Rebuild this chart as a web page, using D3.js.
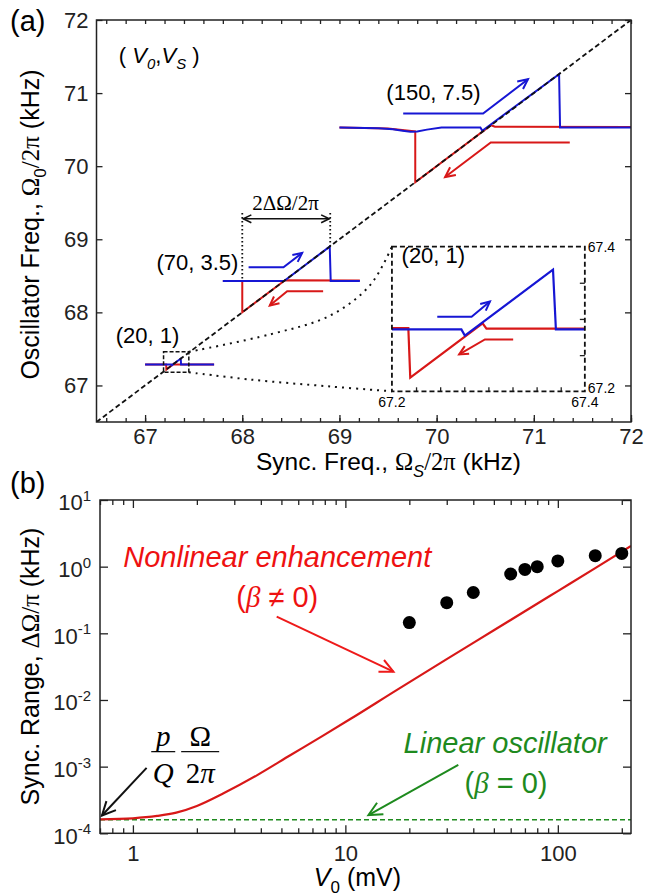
<!DOCTYPE html>
<html>
<head>
<meta charset="utf-8">
<script src="https://cdn.jsdelivr.net/npm/d3@7"></script>
<style>
  body { margin: 0; background: #fff; }
</style>
</head>
<body>
<script>
// ---- panel (a): frequency sweeps, [sync freq, oscillator freq] in kHz ----
var sweepUp150 = [[69.0, 70.53], [69.4, 70.52], [69.55, 70.505], [69.65, 70.485], [69.73, 70.47], [69.8, 70.475],
    [69.9, 70.5], [70.05, 70.53], [70.45, 70.53], [70.47, 70.485], [71.26, 71.26], [71.27, 70.53], [72.0, 70.53]];
var sweepDown150 = [[72.0, 70.535], [70.6, 70.54], [70.56, 70.56], [69.78, 69.78], [69.78, 70.475], [69.5, 70.515], [69.0, 70.53]];
var sweepUp70 = [[67.8, 68.43], [68.43, 68.43], [68.9, 68.9], [68.91, 68.43], [69.21, 68.43]];
var sweepDown70 = [[69.21, 68.437], [68.44, 68.44], [68.0, 68.0], [68.0, 68.43], [67.8, 68.43]];
var sweepUp20 = [[67.0, 67.2855], [67.272, 67.2855], [67.2756, 67.277], [67.367, 67.368], [67.370, 67.2855], [67.71, 67.2855]];
var sweepDown20 = [[67.71, 67.2865], [67.298, 67.2865], [67.294, 67.294], [67.219, 67.219], [67.217, 67.2875], [67.0, 67.2875]];
var ticksA = [67, 68, 69, 70, 71, 72];
var ticksInset = [67.2, 67.4];

// ---- panel (b): sync range vs drive amplitude ----
var v0Measured = [20, 30, 40, 60, 70, 80, 100, 150, 200];
var rangeMeasured = [0.145, 0.288, 0.41, 0.776, 0.91, 1.0, 1.22, 1.46, 1.58];
var v0Theory = [0.7, 1, 1.3, 1.6, 2, 2.67, 3.83, 5.5, 7.89, 10.5, 17.5, 30, 50, 100, 150, 221];
var rangeTheory = [1.62e-4, 1.68e-4, 1.82e-4, 2.04e-4, 2.57e-4, 3.98e-4, 7.4e-4, 1.48e-3, 2.95e-3, 5.13e-3,
    0.0142, 0.041, 0.111, 0.43, 0.95, 2.04];
var linearRange = 1.6e-4;
var ticksBx = [1, 10, 100];
var ticksBy = [1e-4, 1e-3, 1e-2, 1e-1, 1, 10];

var sans = "Arial, 'Liberation Sans', sans-serif";
var serif = "'Times New Roman', 'Liberation Serif', serif";
var blue = "#1616d4", red = "#d81818", green = "#1e8a1e", ink = "#222";

var svg = d3.select("body").append("svg")
    .attr("width", 656)
    .attr("height", 896)
    .attr("font-family", sans);

function styleAxis(g, size) {
    g.select(".domain").remove();
    g.attr("font-size", size || 22).attr("font-family", sans).attr("color", ink);
    g.selectAll("line").attr("stroke-width", 1.3);
}

// text with italic / serif / sub / sup pieces
function rich(t, parts, fs) {
    var shift = 0;
    parts.forEach(function(p) {
        var s = t.append("tspan").text(p.t);
        var target = p.sub ? fs * 0.28 : p.sup ? -fs * 0.42 : 0;
        if (target !== shift) { s.attr("dy", target - shift); shift = target; }
        if (p.sub || p.sup) s.attr("font-size", fs * 0.68);
        if (p.it) s.attr("font-style", "italic");
        if (p.serif) s.attr("font-family", serif);
    });
    return t;
}

function arrow(g, pts, color, width, head, both) {
    g.append("path")
        .attr("d", d3.line()(pts))
        .attr("fill", "none")
        .attr("stroke", color)
        .attr("stroke-width", width);
    var ends = both ? [[pts[pts.length - 1], pts[pts.length - 2]], [pts[0], pts[1]]] : [[pts[pts.length - 1], pts[pts.length - 2]]];
    ends.forEach(function(e) {
        var p = e[0], q = e[1];
        var a = Math.atan2(p[1] - q[1], p[0] - q[0]);
        var h1 = [p[0] - head * Math.cos(a - 0.45), p[1] - head * Math.sin(a - 0.45)];
        var h2 = [p[0] - head * Math.cos(a + 0.45), p[1] - head * Math.sin(a + 0.45)];
        g.append("path")
            .attr("d", d3.line()([h1, p, h2]))
            .attr("fill", "none")
            .attr("stroke", color)
            .attr("stroke-width", width)
            .attr("stroke-linejoin", "miter");
    });
}

// =================== panel (a) ===================
var xA = d3.scaleLinear().domain([66.5, 72]).range([96.5, 631]);
var yA = d3.scaleLinear().domain([66.5, 72]).range([422, 20]);
var lineA = d3.line().x(d => xA(d[0])).y(d => yA(d[1]));
var pA = d => [xA(d[0]), yA(d[1])];

var defs = svg.append("defs");
defs.append("clipPath").attr("id", "clipA").append("rect")
    .attr("x", 96.5).attr("y", 20).attr("width", 631 - 96.5).attr("height", 402);

var panelA = svg.append("g");
var dataA = panelA.append("g").attr("clip-path", "url(#clipA)");

[[sweepDown150, red], [sweepUp150, blue], [sweepDown70, red], [sweepUp70, blue], [sweepDown20, red], [sweepUp20, blue]]
    .forEach(function(s) {
        dataA.append("path")
            .datum(s[0])
            .attr("d", lineA)
            .attr("fill", "none")
            .attr("stroke", s[1])
            .attr("stroke-width", 2);
    });

// y = x guide
dataA.append("line")
    .attr("x1", xA(66.5)).attr("y1", yA(66.5))
    .attr("x2", xA(72)).attr("y2", yA(72))
    .attr("stroke", "#111")
    .attr("stroke-width", 1.8)
    .attr("stroke-dasharray", "5,3");

// zoom box and connectors
panelA.append("rect")
    .attr("x", xA(67.19)).attr("y", yA(67.46))
    .attr("width", xA(67.45) - xA(67.19)).attr("height", yA(67.18) - yA(67.46))
    .attr("fill", "none").attr("stroke", "#111").attr("stroke-width", 1.5).attr("stroke-dasharray", "4,2");

var topConnector = [[67.45, 67.46], [68.29, 67.70], [68.91, 67.96], [69.32, 68.38], [69.54, 68.9]];
var bottomConnector = [[67.45, 67.18], [68.09, 67.08], [68.91, 66.985], [69.54, 66.92]];
[topConnector, bottomConnector].forEach(function(c) {
    panelA.append("path")
        .datum(c)
        .attr("d", lineA.curve(d3.curveCatmullRom))
        .attr("fill", "none")
        .attr("stroke", "#111")
        .attr("stroke-width", 2)
        .attr("stroke-dasharray", "2,5");
});
lineA.curve(d3.curveLinear);

// 2ΔΩ/2π marker
[[68.0, 68.43], [68.905, 68.9]].forEach(function(d) {
    panelA.append("line")
        .attr("x1", xA(d[0])).attr("x2", xA(d[0]))
        .attr("y1", yA(69.36)).attr("y2", yA(d[1]))
        .attr("stroke", "#111").attr("stroke-width", 1.8).attr("stroke-dasharray", "1.5,2.5");
});
arrow(panelA, [pA([68.01, 69.28]), pA([68.895, 69.28])], "#111", 1.6, 9, true);
panelA.append("text")
    .attr("x", xA(68.445)).attr("y", yA(69.395))
    .attr("text-anchor", "middle")
    .attr("font-family", serif)
    .attr("font-size", 21)
    .text("2ΔΩ/2π");

// sweep direction arrows
arrow(panelA, [[69.656, 70.72], [70.478, 70.72], [70.94, 71.19]].map(pA), blue, 2, 11);
arrow(panelA, [[71.37, 70.324], [70.557, 70.324], [70.087, 69.851]].map(pA), red, 2, 11);
arrow(panelA, [[68.065, 68.616], [68.424, 68.616], [68.616, 68.813]].map(pA), blue, 2, 10);
arrow(panelA, [[68.832, 68.288], [68.462, 68.288], [68.283, 68.093]].map(pA), red, 2, 10);

// labels
panelA.append("text").attr("x", xA(69.967)).attr("y", yA(70.907)).attr("text-anchor", "middle").attr("font-size", 22).text("(150, 7.5)");
panelA.append("text").attr("x", xA(67.538)).attr("y", yA(68.585)).attr("text-anchor", "middle").attr("font-size", 22).text("(70, 3.5)");
panelA.append("text").attr("x", xA(67.025)).attr("y", yA(67.583)).attr("text-anchor", "middle").attr("font-size", 22).text("(20, 1)");
rich(panelA.append("text").attr("x", xA(66.73)).attr("y", yA(71.41)).attr("font-size", 22),
    [{t: "( "}, {t: "V", it: true}, {t: "0", it: true, sub: true}, {t: ","}, {t: "V", it: true}, {t: "S", it: true, sub: true}, {t: " )"}], 22);

// axes
var minorA = d3.range(333, 361).map(i => i / 5);
var fmtInt = d3.format("d");
panelA.append("g").attr("transform", "translate(0,422)")
    .call(d3.axisBottom(xA).tickValues(minorA).tickSize(-4).tickFormat("")).call(styleAxis);
panelA.append("g").attr("transform", "translate(0,422)")
    .call(d3.axisBottom(xA).tickValues(ticksA).tickSize(-7).tickPadding(6).tickFormat(fmtInt)).call(styleAxis);
panelA.append("g").attr("transform", "translate(0,20)")
    .call(d3.axisTop(xA).tickValues(minorA).tickSize(-4).tickFormat("")).call(styleAxis);
panelA.append("g").attr("transform", "translate(96.5,0)")
    .call(d3.axisLeft(yA).tickValues(ticksA).tickSize(-6).tickPadding(8).tickFormat(fmtInt)).call(styleAxis);
panelA.append("g").attr("transform", "translate(631,0)")
    .call(d3.axisRight(yA).tickValues(ticksA).tickSize(-6).tickFormat("")).call(styleAxis);
panelA.append("rect")
    .attr("x", 96.5).attr("y", 20).attr("width", 631 - 96.5).attr("height", 402)
    .attr("fill", "none").attr("stroke", ink).attr("stroke-width", 1.5);

// inset
var xI = d3.scaleLinear().domain([67.2, 67.4]).range([xA(69.54), xA(71.525)]);
var yI = d3.scaleLinear().domain([67.2, 67.4]).range([yA(66.92), yA(68.9)]);
var lineI = d3.line().x(d => xI(d[0])).y(d => yI(d[1]));
var pI = d => [xI(d[0]), yI(d[1])];
defs.append("clipPath").attr("id", "clipI").append("rect")
    .attr("x", xI(67.2)).attr("y", yI(67.4)).attr("width", xI(67.4) - xI(67.2)).attr("height", yI(67.2) - yI(67.4));

var inset = panelA.append("g");
inset.append("rect")
    .attr("x", xI(67.2)).attr("y", yI(67.4)).attr("width", xI(67.4) - xI(67.2)).attr("height", yI(67.2) - yI(67.4))
    .attr("fill", "#fff");
var dataI = inset.append("g").attr("clip-path", "url(#clipI)");
[[sweepDown20, red], [sweepUp20, blue]].forEach(function(s) {
    dataI.append("path")
        .datum(s[0])
        .attr("d", lineI)
        .attr("fill", "none")
        .attr("stroke", s[1])
        .attr("stroke-width", 2.2);
});
arrow(inset, [[67.247, 67.303], [67.2826, 67.303], [67.3016, 67.324]].map(pI), blue, 2, 10);
arrow(inset, [[67.3257, 67.2717], [67.2964, 67.2717], [67.2697, 67.251]].map(pI), red, 2, 10);
inset.append("text").attr("x", xI(67.21)).attr("y", yI(67.377)).attr("font-size", 22).text("(20, 1)");

inset.append("g").attr("transform", `translate(0,${yI(67.2)})`)
    .call(d3.axisBottom(xI).tickValues(d3.range(1, 8).map(i => 67.2 + i * 0.025)).tickSize(-4).tickFormat("")).call(styleAxis);
inset.append("g").attr("transform", `translate(${xI(67.4)},0)`)
    .call(d3.axisRight(yI).tickValues([67.25, 67.3, 67.35]).tickSize(-5).tickFormat("")).call(styleAxis);
inset.append("rect")
    .attr("x", xI(67.2)).attr("y", yI(67.4)).attr("width", xI(67.4) - xI(67.2)).attr("height", yI(67.2) - yI(67.4))
    .attr("fill", "none").attr("stroke", "#111").attr("stroke-width", 1.8).attr("stroke-dasharray", "5,3");
ticksInset.forEach(function(v) {
    inset.append("text").attr("x", xI(v)).attr("y", yI(67.2) + 16).attr("text-anchor", "middle").attr("font-size", 14).text(v.toFixed(1));
    inset.append("text").attr("x", xI(67.4) + 3).attr("y", yI(v) + (v === 67.2 ? 2 : 5)).attr("font-size", 14).text(v.toFixed(1));
});

// titles
svg.append("text").attr("x", 10).attr("y", 31).attr("font-size", 29).text("(a)");
rich(svg.append("text").attr("x", 256).attr("y", 470).attr("font-size", 24.5),
    [{t: "Sync. Freq., "}, {t: "Ω", serif: true}, {t: "S", it: true, sub: true}, {t: "/2π", serif: true}, {t: " (kHz)"}], 24.5);
rich(svg.append("text").attr("transform", "translate(39,224.5) rotate(-90)").attr("text-anchor", "middle").attr("font-size", 25),
    [{t: "Oscillator Freq., "}, {t: "Ω", serif: true}, {t: "0", sub: true}, {t: "/2π", serif: true}, {t: " (kHz)"}], 25);

// =================== panel (b) ===================
var xB = d3.scaleLog().domain([0.7, 221]).range([100, 631]);
var yB = d3.scaleLog().domain([1e-4, 10]).range([833.3, 500]);
var pB = d => [xB(d[0]), yB(d[1])];
defs.append("clipPath").attr("id", "clipB").append("rect")
    .attr("x", 100).attr("y", 500).attr("width", 531).attr("height", 333.3);

var panelB = svg.append("g");
var dataB = panelB.append("g").attr("clip-path", "url(#clipB)");

dataB.append("line")
    .attr("x1", xB(0.7)).attr("x2", xB(221))
    .attr("y1", yB(linearRange)).attr("y2", yB(linearRange))
    .attr("stroke", green).attr("stroke-width", 1.6).attr("stroke-dasharray", "5,3");

dataB.append("path")
    .datum(v0Theory.map((v, i) => [v, rangeTheory[i]]))
    .attr("d", d3.line().x(d => xB(d[0])).y(d => yB(d[1])).curve(d3.curveMonotoneX))
    .attr("fill", "none")
    .attr("stroke", red)
    .attr("stroke-width", 2.2);

panelB.selectAll("circle")
    .data(v0Measured)
    .enter()
    .append("circle")
    .attr("cx", d => xB(d))
    .attr("cy", (d, i) => yB(rangeMeasured[i]))
    .attr("r", 6.5)
    .attr("fill", "#000");

// annotations
arrow(panelB, [[4.75, 0.178], [16.84, 0.0266]].map(pB), "#ee1a1a", 2, 15);
arrow(panelB, [[34.0, 1.06e-3], [12.84, 1.88e-4]].map(pB), green, 2, 15);
arrow(panelB, [[1.16, 9.6e-4], [0.715, 1.85e-4]].map(pB), "#111", 2, 15);

panelB.append("text").attr("x", xB(4.78)).attr("y", yB(1.0)).attr("text-anchor", "middle")
    .attr("font-size", 29).attr("font-style", "italic").attr("fill", "#ee1111").text("Nonlinear enhancement");
rich(panelB.append("text").attr("x", xB(4.78)).attr("y", yB(0.251)).attr("text-anchor", "middle").attr("font-size", 29).attr("fill", "#ee1111"),
    [{t: "("}, {t: "β", it: true, serif: true}, {t: " ≠ 0)"}], 29);
panelB.append("text").attr("x", xB(56.5)).attr("y", yB(1.62e-3)).attr("text-anchor", "middle")
    .attr("font-size", 29).attr("font-style", "italic").attr("fill", green).text("Linear oscillator");
rich(panelB.append("text").attr("x", xB(57)).attr("y", yB(3.98e-4)).attr("text-anchor", "middle").attr("font-size", 29).attr("fill", green),
    [{t: "("}, {t: "β", it: true, serif: true}, {t: " = 0)"}], 29);

// p/Q * Ω/2π
var barY = yB(1.68e-3);
[[1.389, "p", "Q", true, 12], [2.073, "Ω", "2π", false, 19]].forEach(function(f) {
    var cx = xB(f[0]);
    panelB.append("line").attr("x1", cx - f[4]).attr("x2", cx + f[4]).attr("y1", barY).attr("y2", barY)
        .attr("stroke", "#111").attr("stroke-width", 1.3);
    var num = panelB.append("text").attr("x", cx).attr("y", barY - 6).attr("text-anchor", "middle")
        .attr("font-family", serif).attr("font-size", 29).text(f[1]);
    var den = panelB.append("text").attr("x", cx).attr("y", barY + 31).attr("text-anchor", "middle")
        .attr("font-family", serif).attr("font-size", 29).text(f[2]);
    if (f[3]) { num.attr("font-style", "italic"); den.attr("font-style", "italic"); }
    else { den.text(null); den.append("tspan").text("2"); den.append("tspan").attr("font-style", "italic").text("π"); }
});

// axes
var minorBx = [0.7, 0.8, 0.9, 2, 3, 4, 5, 6, 7, 8, 9, 20, 30, 40, 50, 60, 70, 80, 90, 200];
panelB.append("g").attr("transform", "translate(0,833.3)")
    .call(d3.axisBottom(xB).tickValues(minorBx).tickSize(-5).tickFormat("")).call(styleAxis);
panelB.append("g").attr("transform", "translate(0,833.3)")
    .call(d3.axisBottom(xB).tickValues(ticksBx).tickSize(-8).tickPadding(12).tickFormat(fmtInt)).call(styleAxis);
panelB.append("g").attr("transform", "translate(0,500)")
    .call(d3.axisTop(xB).tickValues(minorBx).tickSize(-5).tickFormat("")).call(styleAxis);
panelB.append("g").attr("transform", "translate(0,500)")
    .call(d3.axisTop(xB).tickValues(ticksBx).tickSize(-8).tickFormat("")).call(styleAxis);
var yAxisB = panelB.append("g").attr("transform", "translate(100,0)")
    .call(d3.axisLeft(yB).tickValues(ticksBy).tickSize(-8).tickPadding(9)).call(styleAxis);
yAxisB.selectAll("text")
    .attr("dy", "0.45em")
    .each(function(d) {
        var t = d3.select(this).text(null);
        rich(t, [{t: "10"}, {t: String(Math.round(Math.log10(d))), sup: true}], 22);
    });
panelB.append("g").attr("transform", "translate(631,0)")
    .call(d3.axisRight(yB).tickValues(ticksBy).tickSize(-8).tickFormat("")).call(styleAxis);
panelB.append("rect")
    .attr("x", 100).attr("y", 500).attr("width", 531).attr("height", 333.3)
    .attr("fill", "none").attr("stroke", ink).attr("stroke-width", 1.5);

// titles
svg.append("text").attr("x", 10).attr("y", 493).attr("font-size", 29).text("(b)");
rich(svg.append("text").attr("x", 357.5).attr("y", 886).attr("text-anchor", "middle").attr("font-size", 25),
    [{t: "V", it: true}, {t: "0", sub: true}, {t: " (mV)"}], 25);
rich(svg.append("text").attr("transform", "translate(39,666.5) rotate(-90)").attr("text-anchor", "middle").attr("font-size", 25),
    [{t: "Sync. Range, "}, {t: "ΔΩ/π", serif: true}, {t: " (kHz)"}], 25);
</script>
</body>
</html>
